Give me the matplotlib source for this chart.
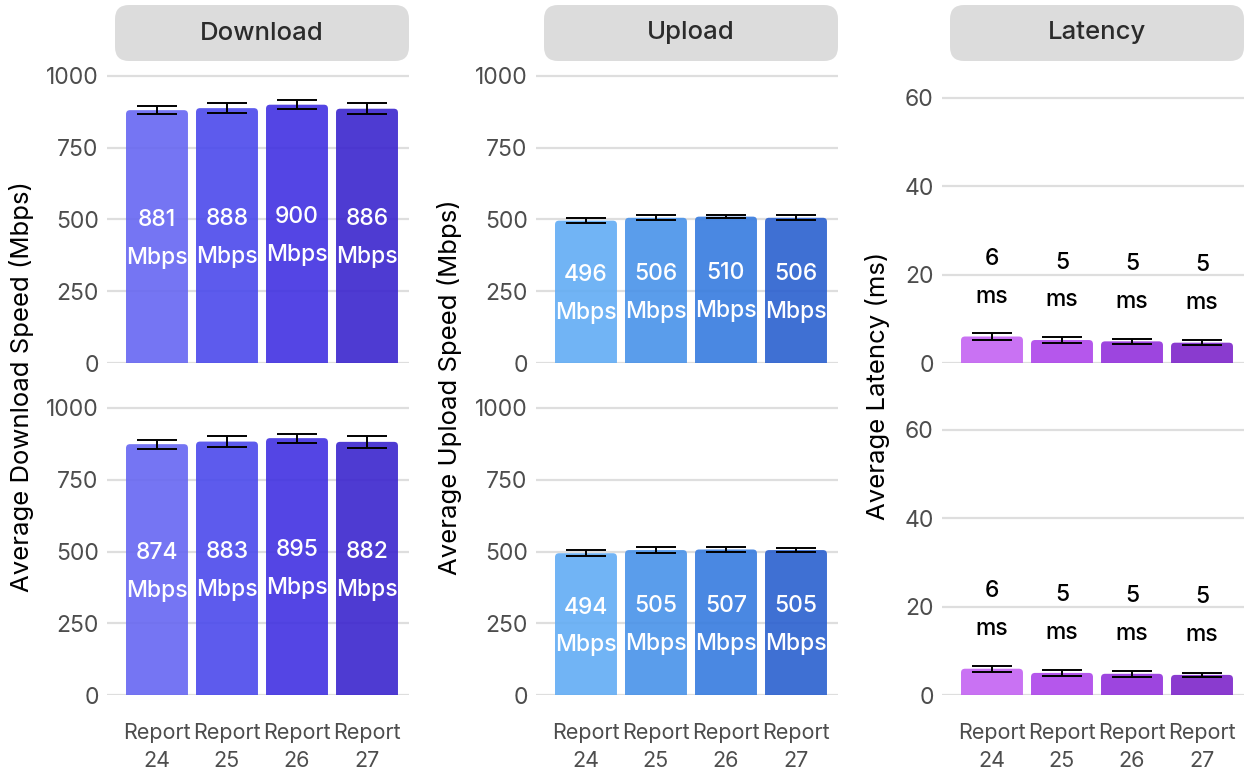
import matplotlib
matplotlib.use("Agg")
import numpy as np
import matplotlib.pyplot as plt
from matplotlib.patches import FancyBboxPatch

plt.rcParams['font.family'] = ['Inter', 'DejaVu Sans']

reports = ["Report\n24", "Report\n25", "Report\n26", "Report\n27"]

download_top = [881, 888, 900, 886]
download_top_err = [14, 17, 15, 20]
download_bottom = [874, 883, 895, 882]
download_bottom_err = [16, 19, 16, 21]

upload_top = [496, 506, 510, 506]
upload_top_err = [9, 8, 6, 8]
upload_bottom = [494, 505, 507, 505]
upload_bottom_err = [10, 9, 7, 8]

latency_top = [6.0, 5.2, 4.9, 4.6]
latency_top_err = [0.72, 0.6, 0.6, 0.5]
latency_bottom = [5.95, 5.0, 4.8, 4.55]
latency_bottom_err = [0.72, 0.68, 0.65, 0.52]

download_colors = ["#6666f2", "#4b49ec", "#4131e1", "#3b25ce"]
upload_colors = ["#62acf4", "#4892e9", "#367bdf", "#2a60cf"]
latency_colors = ["#c363f2", "#ad45ea", "#9331dc", "#7d25ca"]

speed_ticks = [0, 250, 500, 750, 1000]
latency_ticks = [0, 20, 40, 60]

W, H = 1251, 776
TICK_COLOR = "#4d4d4d"

fig = plt.figure(figsize=(W / 100, H / 100), dpi=100)
fig.patch.set_facecolor("white")


def px_axes(left, top, width, height):
    return fig.add_axes([left / W, 1 - (top + height) / H, width / W, height / H])


def rounded_bars(ax, bars, radius_px=4):
    # swap the square bar patches for ones with rounded top corners
    fig.canvas.draw()
    bbox = ax.get_window_extent()
    x0, x1 = ax.get_xlim()
    y0, y1 = ax.get_ylim()
    xpp = (x1 - x0) / bbox.width
    ypp = (y1 - y0) / bbox.height
    aspect = ypp / xpp
    r = radius_px * xpp
    for rect in bars:
        rect.set_visible(False)
        p = FancyBboxPatch((rect.get_x(), rect.get_y() - r * aspect),
                           rect.get_width(), rect.get_height() + r * aspect,
                           boxstyle=f"round,pad=0,rounding_size={r}",
                           mutation_aspect=aspect,
                           facecolor=rect.get_facecolor(), edgecolor="none",
                           zorder=2)
        ax.add_patch(p)


def draw_panel(ax, values, errs, colors, ymax, ticks, kind, show_x):
    x = np.arange(1, len(values) + 1)
    bars = ax.bar(x, values, width=0.885, color=colors, alpha=0.9, zorder=2)
    ax.errorbar(x, values, yerr=errs, fmt="none", ecolor="black",
                elinewidth=1.4, capsize=14.5, capthick=1.4, zorder=4)
    ax.set_xlim(0.286, 4.6)
    ax.set_ylim(0, ymax)
    ax.set_yticks(ticks)
    ax.set_yticklabels([str(t) for t in ticks])
    ax.grid(axis="y", color="#dedede", linewidth=1.6, zorder=0)
    ax.set_axisbelow(True)
    for s in ax.spines.values():
        s.set_visible(False)
    ax.tick_params(axis="y", length=0, pad=6, labelsize=16.5, labelcolor=TICK_COLOR)
    ax.tick_params(axis="x", length=0, pad=20, labelsize=15.5, labelcolor=TICK_COLOR)
    ax.set_xticks(x)
    if show_x:
        ax.set_xticklabels(reports, linespacing=1.5)
    else:
        ax.set_xticklabels([])

    for xi, v in zip(x, values):
        if kind == "speed":
            yc = v / 2
            up, down, col, unit = 7.6, -19.7, "white", "Mbps"
        else:
            yc = v + 13.5
            up, down, col, unit = 8.5, -18.6, "black", "ms"
        ax.annotate(f"{v:.0f}", (xi, yc), xytext=(0, up), textcoords="offset points",
                    ha="center", va="baseline", fontsize=16.5, color=col,
                    fontweight="medium", zorder=5)
        ax.annotate(unit, (xi, yc), xytext=(0, down), textcoords="offset points",
                    ha="center", va="baseline", fontsize=16.5, color=col,
                    fontweight="medium", zorder=5)
    rounded_bars(ax, bars)


col_left = [107, 536, 942]
col_width = 302
row_top = [66, 398]
row_height = 297

speed_max = 1000 * 297 / 287
latency_max = 60 * 297 / 265

columns = [
    ("Download", [(download_top, download_top_err), (download_bottom, download_bottom_err)],
     download_colors, speed_max, speed_ticks, "speed"),
    ("Upload", [(upload_top, upload_top_err), (upload_bottom, upload_bottom_err)],
     upload_colors, speed_max, speed_ticks, "speed"),
    ("Latency", [(latency_top, latency_top_err), (latency_bottom, latency_bottom_err)],
     latency_colors, latency_max, latency_ticks, "latency"),
]

for left, (title, rows, colors, ymax, ticks, kind) in zip(col_left, columns):
    for i, (top, (vals, errs)) in enumerate(zip(row_top, rows)):
        ax = px_axes(left, top, col_width, row_height)
        draw_panel(ax, vals, errs, colors, ymax, ticks, kind, show_x=(i == 1))

    # strip header above each column
    hx0, hx1, hy0, hy1 = left + 8, left + col_width, 5, 61
    fig.patches.append(FancyBboxPatch(
        (hx0 / W, 1 - hy1 / H), (hx1 - hx0) / W, (hy1 - hy0) / H,
        boxstyle=f"round,pad=0,rounding_size={14 / W}",
        mutation_aspect=W / H, transform=fig.transFigure,
        facecolor="#dcdcdc", edgecolor="none", zorder=1))
    fig.text((hx0 + hx1) / 2 / W, 1 - (hy0 + hy1) / 2 / H, title,
             ha="center", va="center", fontsize=18.5, fontweight="medium",
             color="#2b2b2b")

# y-axis titles
ytitles = [("Average Download Speed (Mbps)", 22, 592),
           ("Average Upload Speed (Mbps)", 450, 575),
           ("Average Latency (ms)", 878, 520)]
for text, xp, yb in ytitles:
    fig.text(xp / W, 1 - yb / H, text, rotation=90, ha="center", va="bottom",
             fontsize=18.5, color="black")

fig.savefig("out.png", dpi=100)
